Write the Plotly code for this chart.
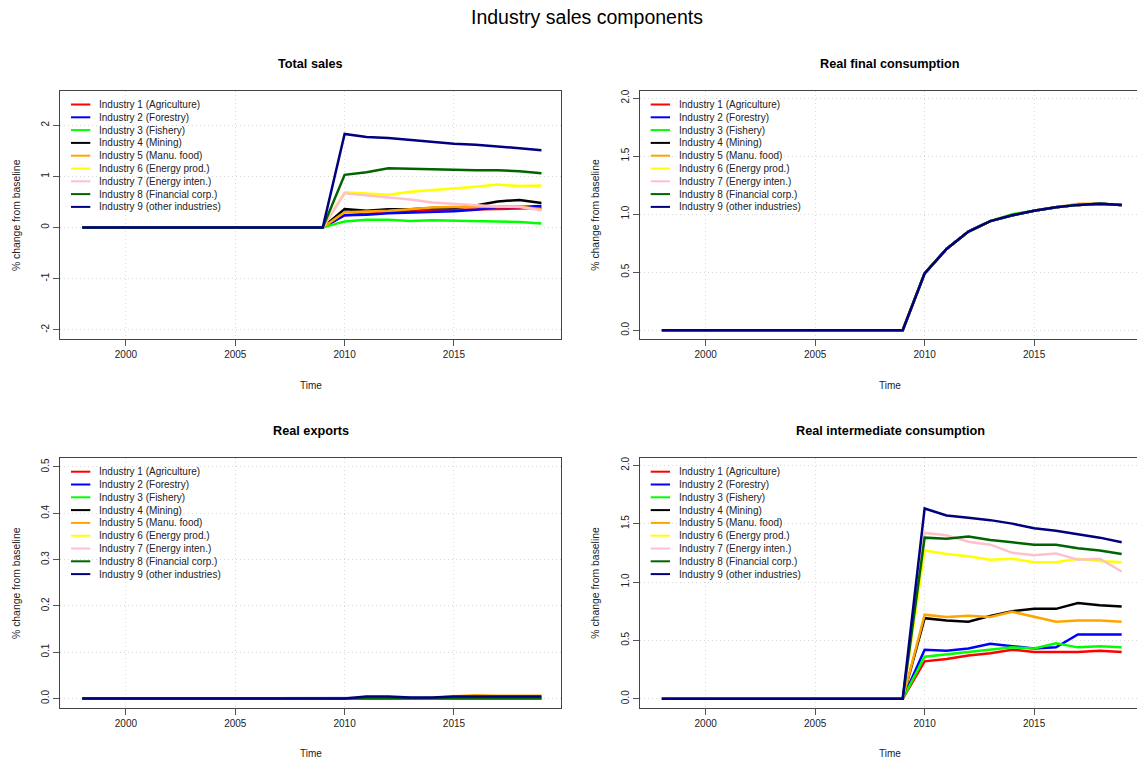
import plotly.graph_objects as go

W, H = 1137, 760

years = list(range(1998, 2020))

industries = [
    "Industry 1 (Agriculture)",
    "Industry 2 (Forestry)",
    "Industry 3 (Fishery)",
    "Industry 4 (Mining)",
    "Industry 5 (Manu. food)",
    "Industry 6 (Energy prod.)",
    "Industry 7 (Energy inten.)",
    "Industry 8 (Financial corp.)",
    "Industry 9 (other industries)",
]
colors = ["#FF0000", "#0000FF", "#00FF00", "#000000", "#FFA500",
          "#FFFF00", "#FFC0CB", "#006400", "#000080"]

# % change from baseline, 1998-2019, one row per industry
total_sales = [
    [0, 0, 0, 0, 0, 0, 0, 0, 0, 0, 0, 0, 0.24, 0.27, 0.30, 0.32, 0.34, 0.35, 0.36, 0.37, 0.37, 0.38],
    [0, 0, 0, 0, 0, 0, 0, 0, 0, 0, 0, 0, 0.24, 0.25, 0.28, 0.29, 0.31, 0.32, 0.35, 0.40, 0.40, 0.42],
    [0, 0, 0, 0, 0, 0, 0, 0, 0, 0, 0, 0, 0.12, 0.15, 0.15, 0.13, 0.14, 0.13, 0.12, 0.11, 0.11, 0.08],
    [0, 0, 0, 0, 0, 0, 0, 0, 0, 0, 0, 0, 0.36, 0.33, 0.36, 0.36, 0.38, 0.38, 0.43, 0.51, 0.54, 0.48],
    [0, 0, 0, 0, 0, 0, 0, 0, 0, 0, 0, 0, 0.30, 0.31, 0.33, 0.36, 0.39, 0.40, 0.40, 0.40, 0.41, 0.36],
    [0, 0, 0, 0, 0, 0, 0, 0, 0, 0, 0, 0, 0.69, 0.66, 0.64, 0.70, 0.73, 0.77, 0.80, 0.84, 0.81, 0.82],
    [0, 0, 0, 0, 0, 0, 0, 0, 0, 0, 0, 0, 0.67, 0.63, 0.58, 0.55, 0.49, 0.46, 0.43, 0.41, 0.40, 0.34],
    [0, 0, 0, 0, 0, 0, 0, 0, 0, 0, 0, 0, 1.03, 1.08, 1.16, 1.15, 1.14, 1.12, 1.12, 1.12, 1.10, 1.06],
    [0, 0, 0, 0, 0, 0, 0, 0, 0, 0, 0, 0, 1.83, 1.77, 1.75, 1.71, 1.67, 1.64, 1.62, 1.59, 1.55, 1.51],
]

final_consumption = [
    [0, 0, 0, 0, 0, 0, 0, 0, 0, 0, 0, 0, 0.49, 0.70, 0.85, 0.94, 0.99, 1.03, 1.06, 1.08, 1.09, 1.08],
    [0, 0, 0, 0, 0, 0, 0, 0, 0, 0, 0, 0, 0.49, 0.70, 0.85, 0.94, 0.99, 1.03, 1.06, 1.08, 1.09, 1.08],
    [0, 0, 0, 0, 0, 0, 0, 0, 0, 0, 0, 0, 0.49, 0.70, 0.85, 0.94, 1.00, 1.03, 1.06, 1.08, 1.09, 1.08],
    [0, 0, 0, 0, 0, 0, 0, 0, 0, 0, 0, 0, 0.49, 0.70, 0.85, 0.94, 0.99, 1.03, 1.06, 1.08, 1.09, 1.08],
    [0, 0, 0, 0, 0, 0, 0, 0, 0, 0, 0, 0, 0.49, 0.70, 0.85, 0.94, 0.99, 1.03, 1.06, 1.09, 1.09, 1.08],
    [0, 0, 0, 0, 0, 0, 0, 0, 0, 0, 0, 0, 0.49, 0.70, 0.85, 0.94, 0.99, 1.03, 1.06, 1.08, 1.09, 1.08],
    [0, 0, 0, 0, 0, 0, 0, 0, 0, 0, 0, 0, 0.49, 0.70, 0.85, 0.94, 0.99, 1.03, 1.06, 1.08, 1.09, 1.08],
    [0, 0, 0, 0, 0, 0, 0, 0, 0, 0, 0, 0, 0.49, 0.70, 0.85, 0.94, 0.99, 1.03, 1.06, 1.08, 1.09, 1.08],
    [0, 0, 0, 0, 0, 0, 0, 0, 0, 0, 0, 0, 0.49, 0.70, 0.85, 0.94, 0.99, 1.03, 1.06, 1.08, 1.09, 1.08],
]

real_exports = [
    [0, 0, 0, 0, 0, 0, 0, 0, 0, 0, 0, 0, 0, 0, 0, 0, 0, 0, 0, 0, 0, 0],
    [0, 0, 0, 0, 0, 0, 0, 0, 0, 0, 0, 0, 0, 0, 0, 0, 0, 0.001, 0.001, 0.001, 0.001, 0.001],
    [0, 0, 0, 0, 0, 0, 0, 0, 0, 0, 0, 0, 0, 0, 0, 0, 0, 0, 0, 0, 0, 0],
    [0, 0, 0, 0, 0, 0, 0, 0, 0, 0, 0, 0, 0, 0, 0, 0, 0, 0, 0, 0, 0, 0],
    [0, 0, 0, 0, 0, 0, 0, 0, 0, 0, 0, 0, 0, 0, 0, 0, 0.001, 0.005, 0.007, 0.006, 0.006, 0.006],
    [0, 0, 0, 0, 0, 0, 0, 0, 0, 0, 0, 0, 0, 0, 0, 0, 0, 0, 0, 0, 0, 0],
    [0, 0, 0, 0, 0, 0, 0, 0, 0, 0, 0, 0, 0, 0.003, 0.002, 0, 0, 0, 0, 0, 0, 0],
    [0, 0, 0, 0, 0, 0, 0, 0, 0, 0, 0, 0, 0, 0, 0, 0, 0, 0, 0, 0, 0, 0],
    [0, 0, 0, 0, 0, 0, 0, 0, 0, 0, 0, 0, 0, 0.004, 0.004, 0.002, 0.002, 0.004, 0.004, 0.004, 0.004, 0.004],
]

intermediate_consumption = [
    [0, 0, 0, 0, 0, 0, 0, 0, 0, 0, 0, 0, 0.32, 0.34, 0.37, 0.39, 0.42, 0.40, 0.40, 0.40, 0.41, 0.40],
    [0, 0, 0, 0, 0, 0, 0, 0, 0, 0, 0, 0, 0.42, 0.41, 0.43, 0.47, 0.45, 0.43, 0.44, 0.55, 0.55, 0.55],
    [0, 0, 0, 0, 0, 0, 0, 0, 0, 0, 0, 0, 0.36, 0.38, 0.40, 0.42, 0.44, 0.43, 0.475, 0.44, 0.45, 0.44],
    [0, 0, 0, 0, 0, 0, 0, 0, 0, 0, 0, 0, 0.69, 0.67, 0.66, 0.71, 0.75, 0.77, 0.77, 0.82, 0.80, 0.79],
    [0, 0, 0, 0, 0, 0, 0, 0, 0, 0, 0, 0, 0.72, 0.70, 0.71, 0.70, 0.745, 0.70, 0.66, 0.67, 0.67, 0.66],
    [0, 0, 0, 0, 0, 0, 0, 0, 0, 0, 0, 0, 1.27, 1.24, 1.22, 1.19, 1.20, 1.17, 1.17, 1.20, 1.18, 1.17],
    [0, 0, 0, 0, 0, 0, 0, 0, 0, 0, 0, 0, 1.42, 1.40, 1.345, 1.32, 1.25, 1.23, 1.245, 1.19, 1.20, 1.09],
    [0, 0, 0, 0, 0, 0, 0, 0, 0, 0, 0, 0, 1.38, 1.37, 1.39, 1.36, 1.34, 1.32, 1.32, 1.29, 1.27, 1.24],
    [0, 0, 0, 0, 0, 0, 0, 0, 0, 0, 0, 0, 1.63, 1.57, 1.55, 1.53, 1.50, 1.46, 1.44, 1.41, 1.38, 1.34],
]

x_ticks = [2000, 2005, 2010, 2015]

FONT = "Liberation Sans, Arial, sans-serif"

# panel geometry in pixels: left, right, top, bottom
LEFT_COL = (60.3, 560.7)
RIGHT_COL = (640.0, 1137.0)
PANEL_W = LEFT_COL[1] - LEFT_COL[0]
TOP_ROW = (90.5, 339.0)
BOT_ROW = (457.7, 707.7)

panels = [
    dict(title="Total sales", data=total_sales, col=LEFT_COL, row=TOP_ROW,
         xr=[1997.0, 2019.88], yr=[-2.18, 2.68],
         yt=[-2, -1, 0, 1, 2], ytt=["-2", "-1", "0", "1", "2"], mirror_y=True),
    dict(title="Real final consumption", data=final_consumption, col=RIGHT_COL, row=TOP_ROW,
         xr=[1997.0, 2019.70], yr=[-0.075, 2.065],
         yt=[0, 0.5, 1, 1.5, 2], ytt=["0.0", "0.5", "1.0", "1.5", "2.0"], mirror_y=False),
    dict(title="Real exports", data=real_exports, col=LEFT_COL, row=BOT_ROW,
         xr=[1997.0, 2019.88], yr=[-0.02, 0.52],
         yt=[0, 0.1, 0.2, 0.3, 0.4, 0.5], ytt=["0.0", "0.1", "0.2", "0.3", "0.4", "0.5"], mirror_y=True),
    dict(title="Real intermediate consumption", data=intermediate_consumption, col=RIGHT_COL, row=BOT_ROW,
         xr=[1997.0, 2019.70], yr=[-0.077, 2.065],
         yt=[0, 0.5, 1, 1.5, 2], ytt=["0.0", "0.5", "1.0", "1.5", "2.0"], mirror_y=False),
]


def px(x):
    return x / W


def py(y):
    return 1 - y / H


fig = go.Figure()
layout = dict(
    width=W, height=H,
    margin=dict(l=0, r=0, t=0, b=0),
    paper_bgcolor="white", plot_bgcolor="white",
    showlegend=False,
    font=dict(family=FONT, size=10, color="#222"),
)
annotations = []
shapes = []

axis_common = dict(
    showgrid=True, gridcolor="#d9d9d9", griddash="1px,3px", gridwidth=1,
    zeroline=False, showline=True, linecolor="#444", linewidth=1,
    ticks="outside", ticklen=6, tickcolor="#555", tickwidth=1,
    tickfont=dict(family=FONT, size=10, color="#222"),
)

for k, p in enumerate(panels):
    sfx = "" if k == 0 else str(k + 1)
    xa, ya = "x" + sfx, "y" + sfx
    x0, x1 = p["col"]
    y0, y1 = p["row"]

    layout["xaxis" + sfx] = dict(
        axis_common, domain=[px(x0), min(px(x1), 1.0)], range=p["xr"],
        tickvals=x_ticks, ticktext=[str(t) for t in x_ticks],
        mirror=True, anchor=ya,
    )
    layout["yaxis" + sfx] = dict(
        axis_common, domain=[py(y1), py(y0)], range=p["yr"],
        tickvals=p["yt"], ticktext=p["ytt"], tickangle=-90,
        mirror=p["mirror_y"], anchor=xa,
    )

    for name, color, vals in zip(industries, colors, p["data"]):
        fig.add_trace(go.Scatter(
            x=years, y=vals, mode="lines", name=name,
            line=dict(color=color, width=2.5),
            xaxis=xa, yaxis=ya, hoverinfo="skip",
        ))

    cx = x0 + PANEL_W / 2
    cy = (y0 + y1) / 2

    # panel title
    annotations.append(dict(
        text="<b>" + p["title"] + "</b>", x=px(cx), y=py(y0 - 26.5),
        xref="paper", yref="paper", xanchor="center", yanchor="middle",
        showarrow=False, font=dict(family=FONT, size=12.7, color="#000"),
    ))
    # x-axis title
    annotations.append(dict(
        text="Time", x=px(cx), y=py(y1 + 46),
        xref="paper", yref="paper", xanchor="center", yanchor="middle",
        showarrow=False, font=dict(family=FONT, size=10, color="#222"),
    ))
    # y-axis title
    annotations.append(dict(
        text="% change from baseline", x=px(x0 - 44), y=py(cy), textangle=-90,
        xref="paper", yref="paper", xanchor="center", yanchor="middle",
        showarrow=False, font=dict(family=FONT, size=10.4, color="#222"),
    ))

    # legend (no frame), top-left inside the panel
    for i, (name, color) in enumerate(zip(industries, colors)):
        ly = y0 + 14 + i * 12.8
        shapes.append(dict(
            type="line", xref="paper", yref="paper",
            x0=px(x0 + 10.7), x1=px(x0 + 30), y0=py(ly), y1=py(ly),
            line=dict(color=color, width=2),
        ))
        annotations.append(dict(
            text=name, x=px(x0 + 37), y=py(ly),
            xref="paper", yref="paper", xanchor="left", yanchor="middle",
            showarrow=False, font=dict(family=FONT, size=10, color="#222"),
        ))

# figure title
annotations.append(dict(
    text="Industry sales components", x=px(587), y=py(17),
    xref="paper", yref="paper", xanchor="center", yanchor="middle",
    showarrow=False, font=dict(family=FONT, size=19.5, color="#000"),
))

layout["annotations"] = annotations
layout["shapes"] = shapes
fig.update_layout(**layout)

fig.write_html("out.html", config={"displayModeBar": False})
